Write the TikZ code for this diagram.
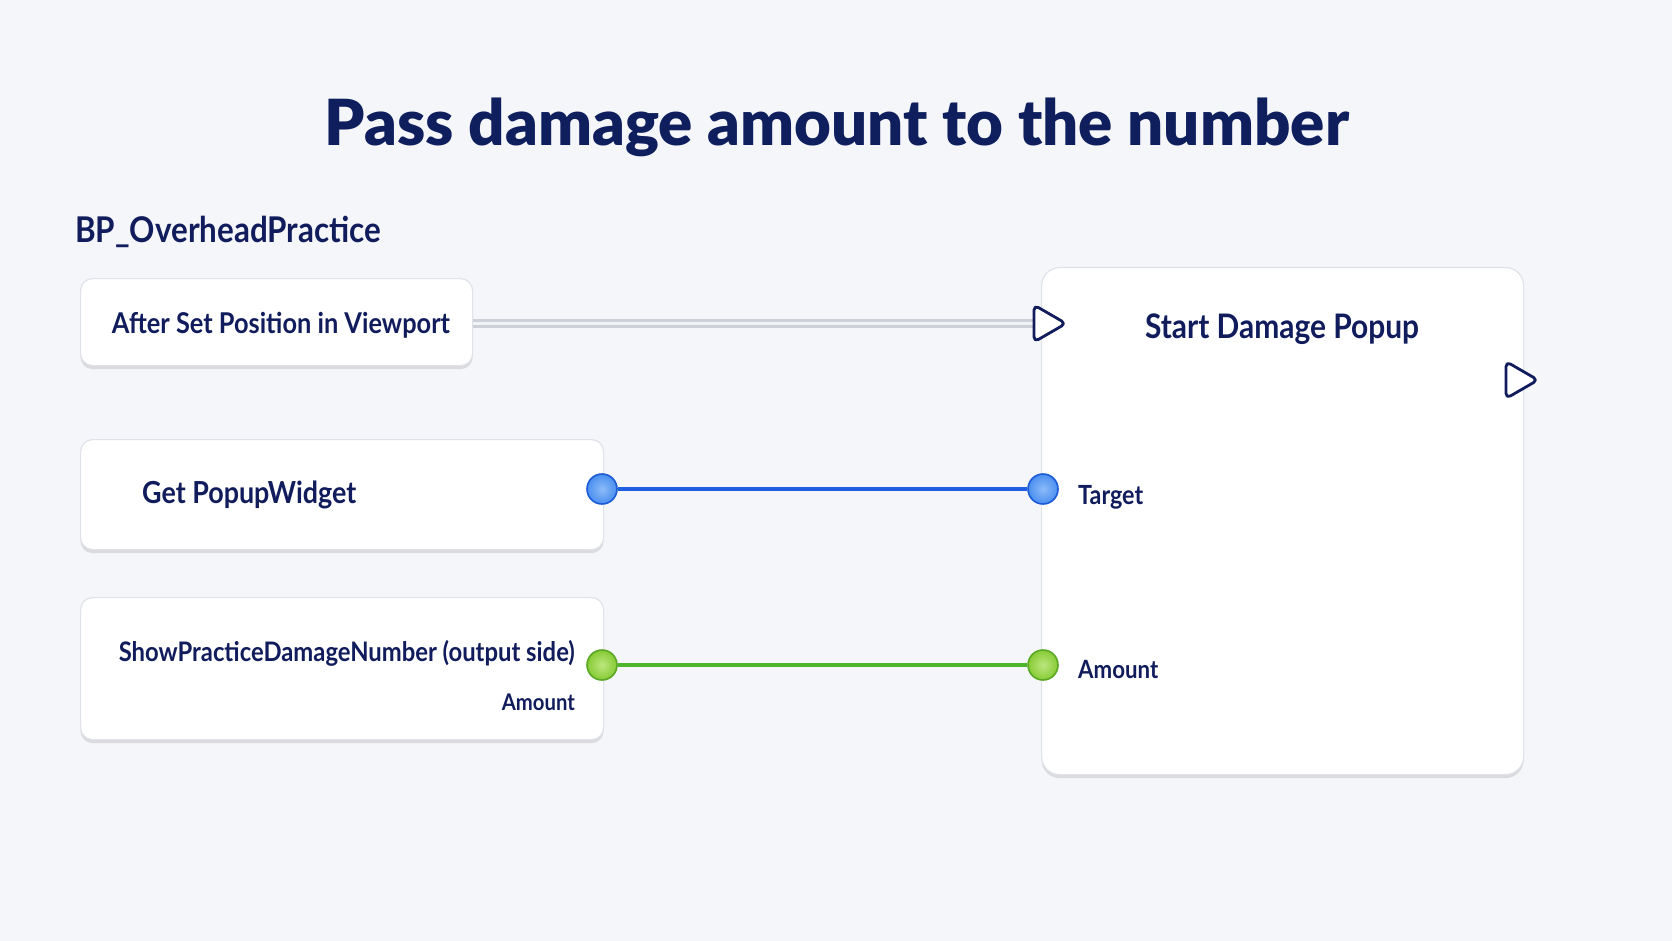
\documentclass[tikz,border=0pt]{standalone}
\usepackage{fontspec}
\setmainfont{Lato}
\IfFontExistsTF{Lato Black}{\newfontfamily\titlefont{Lato Black}}{\newfontfamily\titlefont{Lato Bold}}
\newfontfamily\labfont{Lato Bold}
\usetikzlibrary{shadows,shapes.geometric}
\definecolor{navy}{HTML}{111C5C}
\definecolor{titlenavy}{HTML}{0F1F5E}
\definecolor{bg}{HTML}{F5F6FA}
\definecolor{bordr}{HTML}{DFE2E9}
\definecolor{pinblue}{HTML}{4A8FF0}
\definecolor{pinblueL}{HTML}{8DBBF8}
\definecolor{pinblueE}{HTML}{1C5BD6}
\definecolor{lineblue}{HTML}{1E5FE3}
\definecolor{pingreen}{HTML}{86CB34}
\definecolor{pingreenL}{HTML}{BDE67F}
\definecolor{pingreenE}{HTML}{5BA726}
\definecolor{linegreen}{HTML}{4DB52A}
\definecolor{execgray}{HTML}{CDD0D8}
\definecolor{execin}{HTML}{F2F3F6}
\newcommand{\fitw}[2]{\scalebox{1}[1.13]{\resizebox{#1pt}{!}{#2}}}
\newcommand{\fitt}[2]{\resizebox{#1pt}{!}{#2}}
\begin{document}
\begin{tikzpicture}[x=1pt,y=-1pt,
  card/.style={draw=bordr, line width=1.2pt, fill=white, rounded corners=12pt,
    drop shadow={shadow xshift=0pt, shadow yshift=-3.5pt, opacity=0.2, fill=black!55},
    inner sep=0pt, anchor=north west},
  lab/.style={text=navy, font=\labfont\fontsize{26}{30}\selectfont, inner sep=0pt},
  pinb/.style={circle, minimum size=30pt, inner sep=0pt,
    draw=pinblueE, line width=1.6pt, inner color=pinblueL, outer color=pinblue},
  ping/.style={circle, minimum size=30pt, inner sep=0pt,
    draw=pingreenE, line width=1.6pt, inner color=pingreenL, outer color=pingreen},
  execpin/.style={draw=navy, fill=white, line width=2.8pt, rounded corners=5pt, line join=round},
]
\useasboundingbox (0,0) rectangle (1672,941);
\fill[bg] (0,0) rectangle (1672,941);

% title
\node[anchor=base, inner sep=0pt, text=titlenavy, font=\titlefont\fontsize{62}{70}\selectfont] (title) at (837,146) {\fitt{1024}{Pass damage amount to the number}};

\node[lab, anchor=base west] (bp) at (75,242) {\fitw{306}{BP\_OverheadPractice}};

% cards
\node[card, minimum width=392pt, minimum height=87pt] (b1) at (80,278) {};
\node[card, minimum width=523pt, minimum height=110pt] (b2) at (80,439) {};
\node[card, minimum width=523pt, minimum height=142pt] (b3) at (80,597) {};
\node[card, minimum width=482pt, minimum height=507pt, rounded corners=18pt] (big) at (1041,267) {};

% texts
\node[lab, anchor=base] (t1) at (281,333) {\fitw{338}{After Set Position in Viewport}};
\node[lab, anchor=base] (t4) at (1282,338) {\fitw{274}{Start Damage Popup}};
\node[lab, anchor=base west] (t2) at (142,503) {\fitw{214}{Get PopupWidget}};
\node[lab, anchor=base east] (t3) at (575,661) {\fitw{456}{ShowPracticeDamageNumber (output side)}};
\node[lab, anchor=base east] (t3b) at (575,710) {\fitw{73}{Amount}};
\node[lab, anchor=base west] (tt) at (1078,504) {\fitw{65}{Target}};
\node[lab, anchor=base west] (ta) at (1078,678) {\fitw{80}{Amount}};

% exec connection
\coordinate (ein) at (1034,323.5);
\coordinate (eout) at (1506,380);
\draw[draw=execgray, line width=9pt] (b1.east |- ein) -- (ein);
\draw[draw=execin, line width=3.6pt] (b1.east |- ein) -- (ein);
\draw[execpin] (ein) ++(0,-18.5) -- ++(32,18.5) -- ++(-32,18.5) -- cycle;
\draw[execpin] (eout) ++(0,-18.5) -- ++(32,18.5) -- ++(-32,18.5) -- cycle;

% data pins
\node[pinb] (pb1) at (602,489) {};
\node[pinb] (pb2) at (1043,489) {};
\node[ping] (pg1) at (602,665) {};
\node[ping] (pg2) at (1043,665) {};
\draw[lineblue, line width=4pt] (pb1) -- (pb2);
\draw[linegreen, line width=3.2pt] (pg1) -- (pg2);
\end{tikzpicture}
\end{document}
